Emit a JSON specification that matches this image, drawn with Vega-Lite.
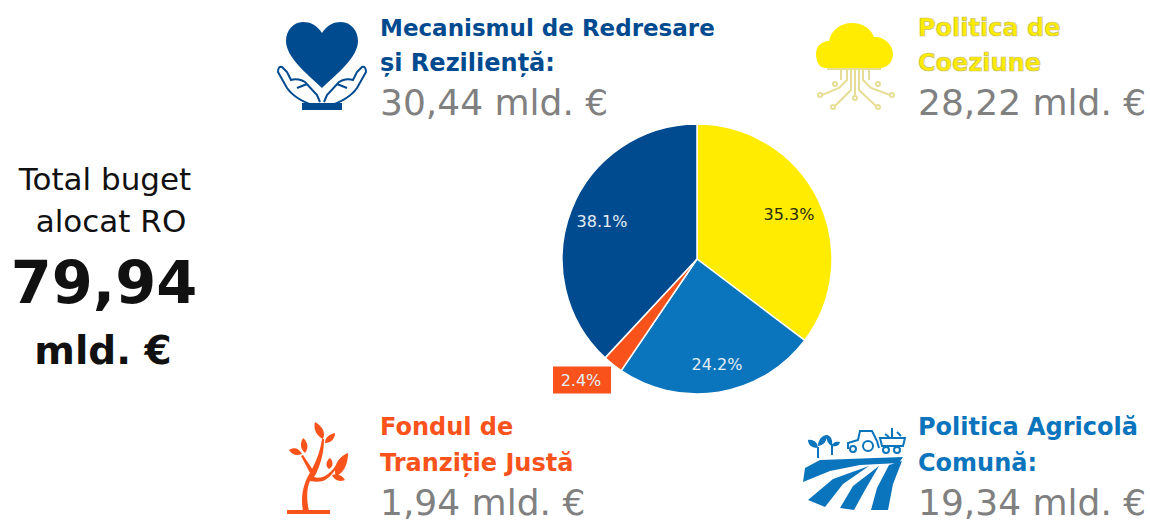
{"$schema":"https://vega.github.io/schema/vega-lite/v6.json","width":1150,"height":522,"autosize":{"type":"fit","contains":"padding"},"padding":0,"background":"white","config":{"view":{"stroke":null},"font":"DejaVu Sans"},
"datasets":{
"slices":[{"fund":"Coeziune","value":28.22,"rank":1,"across":697,"down":259},{"fund":"Agricola","value":19.34,"rank":2,"across":697,"down":259},{"fund":"Tranzitie","value":1.94,"rank":3,"across":697,"down":259},{"fund":"Mecanism","value":30.44,"rank":4,"across":697,"down":259}],
"sliceLabels":[{"label":"35.3%","tone":"onYellow","across":789,"down":215},{"label":"24.2%","tone":"onDark","across":717,"down":365},{"label":"2.4%","tone":"onDark","across":581,"down":381},{"label":"38.1%","tone":"onDark","across":602,"down":222}],
"text":[{"text":"Total buget","across":105,"down":190,"group":"total","role":"totalLabel"},{"text":"alocat RO","across":111,"down":232,"group":"total","role":"totalLabel"},{"text":"79,94","across":104,"down":303,"group":"total","role":"totalValue"},{"text":"mld. €","across":103,"down":364,"group":"total","role":"totalUnit"},{"text":"Mecanismul de Redresare","across":380,"down":36,"group":"Mecanism","role":"nameLong"},{"text":"și Reziliență:","across":380,"down":71,"group":"Mecanism","role":"name"},{"text":"30,44 mld. €","across":380,"down":115,"group":"amount","role":"amount"},{"text":"Politica de","across":918,"down":36,"group":"Coeziune","role":"name"},{"text":"Coeziune","across":918,"down":71,"group":"Coeziune","role":"name"},{"text":"28,22 mld. €","across":918,"down":115,"group":"amount","role":"amount"},{"text":"Fondul de","across":380,"down":435,"group":"Tranzitie","role":"name"},{"text":"Tranziție Justă","across":380,"down":471,"group":"Tranzitie","role":"name"},{"text":"1,94 mld. €","across":380,"down":515,"group":"amount","role":"amount"},{"text":"Politica Agricolă","across":918,"down":435,"group":"Agricola","role":"name"},{"text":"Comună:","across":918,"down":471,"group":"Agricola","role":"name"},{"text":"19,34 mld. €","across":918,"down":515,"group":"amount","role":"amount"}],
"solidIcons":[{"part":"heart","across":322,"down":66,"group":"Mecanism"},{"part":"cuff","across":322,"down":66,"group":"Mecanism"},{"part":"labelBox","across":582,"down":380,"group":"Tranzitie"},{"part":"cloud","across":855,"down":66,"group":"Coeziune"},{"part":"tree","across":316,"down":470,"group":"Tranzitie"},{"part":"field","across":855,"down":470,"group":"Agricola"},{"part":"plants","across":855,"down":470,"group":"Agricola"}],
"outlineIcons":[{"part":"hands","across":322,"down":66,"group":"Mecanism"},{"part":"circuit","across":855,"down":66,"group":"circuit"},{"part":"tractor","across":855,"down":470,"group":"Agricola"}]
},
"encoding":{
"x":{"field":"across","type":"quantitative","scale":{"domain":[0,1150],"nice":false,"zero":false},"axis":null,"stack":false},
"y":{"field":"down","type":"quantitative","scale":{"domain":[522,0],"nice":false,"zero":false},"axis":null,"stack":false}
},
"layer":[
{"data":{"name":"solidIcons"},"mark":{"type":"point","filled":true,"size":4,"opacity":1},
"encoding":{"color":{"field":"group","type":"nominal","scale":{"domain":["Coeziune","Agricola","Tranzitie","Mecanism","amount","total","onDark","onYellow","circuit"],"range":["#FFEC00","#0A74BC","#F9531B","#004A90","#808080","#111111","#E4EEF6","#2B2B10","#E6DE96"]},"legend":null},
"shape":{"field":"part","type":"nominal","legend":null,"scale":{"domain":["heart","cuff","labelBox","cloud","tree","field","plants"],"range":[
"M0,-33 C-5,-41 -12,-44 -19,-44 C-29,-44 -36,-35 -36,-25 C-36,-9 -15,8 0,22 C15,8 36,-9 36,-25 C36,-35 29,-44 19,-44 C12,-44 5,-41 0,-33 Z",
"M-20,37 H20 V44 H-20 Z",
"M-29,-13.5 H29 V13.5 H-29 Z",
"M-30,2 C-37,2 -39,-7 -39,-12 C-39,-20 -33,-25 -26,-25 C-24,-36 -14,-43 -3,-43 C8,-43 16,-37 19,-29 C28,-30 38,-22 38,-12 C38,-4 32,2 25,2 Z",
"M-29,40 H14 V44 H-29 Z M-13,41 C-16,25 -12,12 -5,1 C0,-8 4,-18 6,-31 L8,-31 C8,-18 5,-7 0,4 L-2,7 C3,9 8,7 12,4 C16,1 19,-3 21,-7 L22,-6 C19,1 14,8 7,11 C3,12 -1,12 -6,11 C-9,17 -10,28 -7,41 Z M-6,3 L-15,-14 L-13,-15 L-3,0 Z M-1,-48 C6,-44 10,-38 7,-31 C1,-34 -3,-40 -1,-48 Z M9,-27 C9,-33 14,-36 19,-37 C19,-31 15,-27 9,-27 Z M-13,-32 C-8,-28 -7,-22 -11,-17 C-16,-21 -16,-27 -13,-32 Z M-27,-20 C-22,-23 -17,-22 -14,-16 C-19,-14 -24,-15 -27,-20 Z M32,-17 C32,-6 28,3 20,6 C16,-2 22,-13 32,-17 Z M14,-12 C18,-8 17,-3 13,-1 C9,-4 10,-9 14,-12 Z M16,5 C21,3 26,5 29,10 C24,12 19,11 16,5 Z",
"M-52,12 L-50,-2 L-35,-10 L48,-13 L44,-7 L5,-5 L-25,1 Z M-47,30 L-22,9 L14,-4 L-12,14 L-30,37 Z M-15,38 L-2,16 L24,-4 L10,20 L-1,40 Z M16,40 L22,18 L34,-5 L47,-9 L38,14 L33,40 Z",
"M-38,-12 L-38,-23 L-36,-23 L-36,-12 Z M-47,-30 C-41,-31 -37,-27 -37,-22 C-43,-22 -47,-25 -47,-30 Z M-37,-24 C-37,-30 -33,-35 -28,-35 C-28,-29 -31,-25 -37,-24 Z M-24,-15 L-24,-26 L-22,-26 L-22,-15 Z M-23,-24 C-27,-26 -29,-30 -28,-35 C-24,-34 -22,-30 -23,-24 Z M-23,-24 C-22,-28 -19,-29 -15,-28 C-16,-24 -19,-23 -23,-24 Z"
]}}}},
{"data":{"name":"outlineIcons"},"mark":{"type":"point","filled":false,"size":4,"opacity":1,"strokeWidth":2},
"encoding":{"color":{"field":"group","type":"nominal","legend":null},
"shape":{"field":"part","type":"nominal","legend":null,"scale":{"domain":["hands","circuit","tractor"],"range":[
"M-4,41 C-14,38 -28,32 -35,22 L-44,6 Q-44,0 -40,1 L-35,6 L-31,14 C-26,12 -20,14 -17,16 L-5,29 L-2,36 M-25,22 L-15,18 M4,41 C14,38 28,32 35,22 L44,6 Q44,0 40,1 L35,6 L31,14 C26,12 20,14 17,16 L5,29 L2,36 M25,22 L15,18",
"M-28,3 H26 M-8,3 V14 L-16,22 L-33,29 M-4,3 V24 L-20,40 M0,3 V30 M4,3 V24 L21,40 M8,3 V14 L16,22 L35,29 M-14,3 V14 M14,3 V14 M-37,29 a2,2 0 1,0 4,0 a2,2 0 1,0 -4,0 M-24,41 a2,2 0 1,0 4,0 a2,2 0 1,0 -4,0 M-2,32 a2,2 0 1,0 4,0 a2,2 0 1,0 -4,0 M21,41 a2,2 0 1,0 4,0 a2,2 0 1,0 -4,0 M35,29 a2,2 0 1,0 4,0 a2,2 0 1,0 -4,0 M-22,18 a2,2 0 1,0 4,0 a2,2 0 1,0 -4,0 M21,18 a2,2 0 1,0 4,0 a2,2 0 1,0 -4,0",
"M-7,-21 L-7,-27 L3,-30 L5,-39 L17,-39 L22,-29 L24,-22 M-5,-21 a3,3 0 1,0 6,0 a3,3 0 1,0 -6,0 M8,-24 a5,5 0 1,0 10,0 a5,5 0 1,0 -10,0 M25,-32 H50 L48,-24 H27 Z M28,-20 a3,3 0 1,0 6,0 a3,3 0 1,0 -6,0 M39,-20 a3,3 0 1,0 6,0 a3,3 0 1,0 -6,0 M30,-36 L34,-33 M37,-42 L37,-33 M42,-38 L46,-34"
]}}}},
{"data":{"name":"slices"},"transform":[{"stack":"value","sort":[{"field":"rank","order":"ascending"}],"as":["a0","a1"]}],"mark":{"type":"arc","outerRadius":135,"stroke":"white","strokeWidth":1.5},
"encoding":{"theta":{"field":"a0","type":"quantitative","stack":false,"scale":{"domain":[0,79.94],"nice":false,"zero":false}},"theta2":{"field":"a1"},"color":{"field":"fund","type":"nominal","legend":null}}},
{"data":{"name":"sliceLabels"},"mark":{"type":"text","fontSize":16,"align":"center","baseline":"middle"},
"encoding":{"text":{"field":"label"},"color":{"field":"tone","type":"nominal","legend":null}}},
{"data":{"name":"text"},"transform":[{"filter":"datum.role === 'nameLong'"}],"mark":{"type":"text","align":"left","baseline":"alphabetic","fontSize":23,"fontWeight":"bold"},
"encoding":{"text":{"field":"text"},"color":{"field":"group","type":"nominal","legend":null}}},
{"data":{"name":"text"},"transform":[{"filter":"datum.role === 'name' && datum.group !== 'Coeziune'"}],"mark":{"type":"text","align":"left","baseline":"alphabetic","fontSize":24,"fontWeight":"bold"},
"encoding":{"text":{"field":"text"},"color":{"field":"group","type":"nominal","legend":null}}},
{"data":{"name":"text"},"transform":[{"filter":"datum.role === 'name' && datum.group === 'Coeziune'"}],"mark":{"type":"text","align":"left","baseline":"alphabetic","fontSize":24,"fontWeight":"bold","stroke":"#C4BC6A","strokeWidth":0.7},
"encoding":{"text":{"field":"text"},"color":{"field":"group","type":"nominal","legend":null}}},
{"data":{"name":"text"},"transform":[{"filter":"datum.role === 'amount'"}],"mark":{"type":"text","align":"left","baseline":"alphabetic","fontSize":36},
"encoding":{"text":{"field":"text"},"color":{"field":"group","type":"nominal","legend":null}}},
{"data":{"name":"text"},"transform":[{"filter":"datum.role === 'totalLabel'"}],"mark":{"type":"text","align":"center","baseline":"alphabetic","fontSize":31},
"encoding":{"text":{"field":"text"},"color":{"field":"group","type":"nominal","legend":null}}},
{"data":{"name":"text"},"transform":[{"filter":"datum.role === 'totalValue'"}],"mark":{"type":"text","align":"center","baseline":"alphabetic","fontSize":59,"fontWeight":"bold"},
"encoding":{"text":{"field":"text"},"color":{"field":"group","type":"nominal","legend":null}}},
{"data":{"name":"text"},"transform":[{"filter":"datum.role === 'totalUnit'"}],"mark":{"type":"text","align":"center","baseline":"alphabetic","fontSize":39,"fontWeight":"bold"},
"encoding":{"text":{"field":"text"},"color":{"field":"group","type":"nominal","legend":null}}}
],
"resolve":{"scale":{"shape":"independent"}}
}
